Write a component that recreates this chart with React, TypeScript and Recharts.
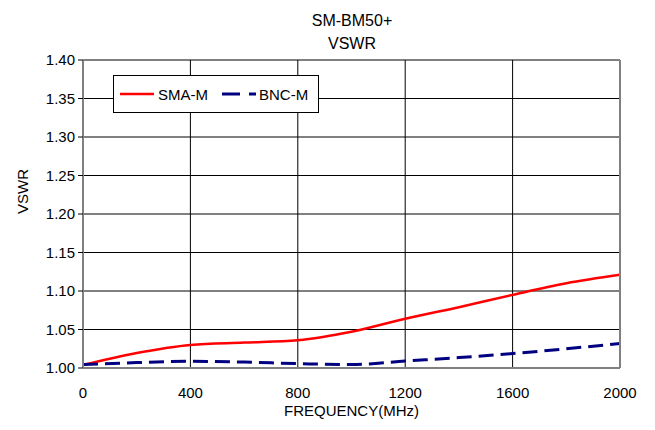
import React from 'react';
import { LineChart, Line, XAxis, YAxis, CartesianGrid } from 'recharts';

document.body.style.margin = '0';

const frequencies = [0, 200, 400, 600, 800, 1000, 1200, 1400, 1600, 1800, 2000];
const smaM = [1.004, 1.0195, 1.03, 1.033, 1.036, 1.047, 1.064, 1.079, 1.095, 1.11, 1.121];
const bncM = [1.0044, 1.007, 1.0087, 1.0077, 1.0057, 1.0044, 1.009, 1.0135, 1.0187, 1.025, 1.0318];
const xTicks = [0, 400, 800, 1200, 1600, 2000];
const yTicks = [1.0, 1.05, 1.1, 1.15, 1.2, 1.25, 1.3, 1.35, 1.4];

const chartData = frequencies.map((f, i) => ({ freq: f, sma: smaM[i], bnc: bncM[i] }));

const FONT = '"Liberation Sans", Arial, sans-serif';

// legend box drawn over the plot, like the original spreadsheet chart
const LegendBox = () => (
  <div
    style={{
      position: 'absolute',
      left: 113,
      top: 75,
      width: 206,
      height: 38,
      border: '1px solid #000',
      background: '#fff',
      display: 'flex',
      alignItems: 'center',
      fontFamily: FONT,
      fontSize: 15,
      color: '#000',
      boxSizing: 'border-box',
    }}
  >
    <svg width={42} height={10} style={{ marginLeft: 6 }}>
      <line x1={0} y1={5} x2={34} y2={5} stroke="#ff0000" strokeWidth={2.5} />
    </svg>
    <span style={{ marginLeft: -4 }}>SMA-M</span>
    <svg width={40} height={10} style={{ marginLeft: 14 }}>
      <line x1={0} y1={5} x2={34} y2={5} stroke="#000080" strokeWidth={3} strokeDasharray="18 9" />
    </svg>
    <span style={{ marginLeft: -3 }}>BNC-M</span>
  </div>
);

const App: React.FC = () => {
  return (
    <div style={{ position: 'relative', width: 655, height: 430, background: '#fff' }}>
      <div
        style={{
          position: 'absolute',
          left: 252,
          width: 200,
          top: 9,
          textAlign: 'center',
          fontFamily: FONT,
          fontSize: 16,
          lineHeight: '23px',
          color: '#000',
        }}
      >
        SM-BM50+
        <br />
        VSWR
      </div>
      <LineChart
        width={655}
        height={430}
        data={chartData}
        margin={{ top: 60, right: 0, left: 0, bottom: 0 }}
      >
        <CartesianGrid
          yAxisId="left"
          stroke="#000"
          strokeWidth={1}
          horizontalValues={yTicks}
          verticalValues={xTicks}
        />
        <XAxis
          dataKey="freq"
          type="number"
          domain={[0, 2000]}
          ticks={xTicks}
          height={62}
          stroke="#808080"
          strokeWidth={2}
          tickLine={false}
          tick={{ fill: '#000', fontSize: 15, fontFamily: FONT }}
          tickMargin={13}
          label={{ value: 'FREQUENCY(MHz)', position: 'insideBottom', offset: 14, fill: '#000', fontSize: 15, fontFamily: FONT }}
        />
        <YAxis
          yAxisId="left"
          type="number"
          domain={[1.0, 1.4]}
          ticks={yTicks}
          width={83}
          stroke="#808080"
          strokeWidth={2}
          tickSize={5}
          tickLine={{ stroke: '#000', strokeWidth: 1 }}
          tickMargin={3}
          tickFormatter={(v: number) => v.toFixed(2)}
          tick={{ fill: '#000', fontSize: 15, fontFamily: FONT }}
          allowDataOverflow
          label={{ value: 'VSWR', angle: -90, position: 'insideLeft', offset: 23, fill: '#000', fontSize: 15, fontFamily: FONT }}
        />
        <YAxis
          yAxisId="right"
          orientation="right"
          type="number"
          domain={[1.0, 1.4]}
          width={35}
          stroke="#808080"
          strokeWidth={2}
          tick={false}
          tickLine={false}
        />
        <Line
          yAxisId="left"
          type="monotone"
          dataKey="sma"
          stroke="#ff0000"
          strokeWidth={2.5}
          dot={false}
          isAnimationActive={false}
        />
        <Line
          yAxisId="left"
          type="monotone"
          dataKey="bnc"
          stroke="#000080"
          strokeWidth={3}
          strokeDasharray="15 7"
          dot={false}
          isAnimationActive={false}
        />
      </LineChart>
      <LegendBox />
    </div>
  );
};

export default App;
